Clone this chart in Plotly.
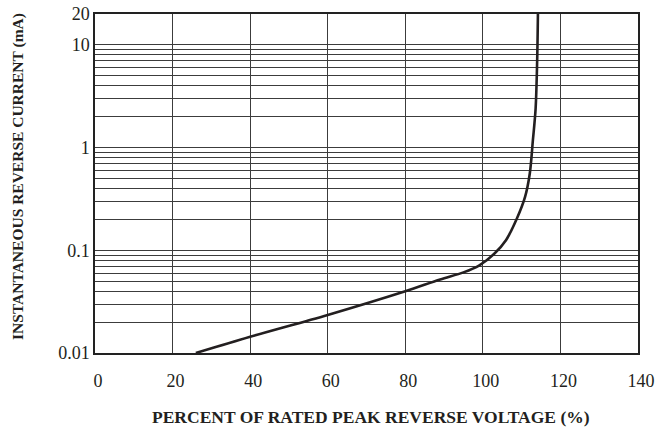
import plotly.graph_objects as go

# Curve
voltage_pct = [26, 40, 60, 80, 89, 95, 99, 103, 106, 108.8, 110.9, 112.1, 112.9, 113.6, 114.0, 114.2]
current_ma = [0.01, 0.0144, 0.0235, 0.040, 0.052, 0.061, 0.071, 0.093, 0.126, 0.205, 0.333, 0.56, 1.18, 2.4, 7.0, 20]

x_ticks = [0, 20, 40, 60, 80, 100, 120, 140]
x_ticktext = ["0", "20", "40", "60", "80", "100", "120", "140"]

y_grid = [m * d for d in (0.01, 0.1, 1) for m in range(1, 10)] + [10, 20]
y_labels = {0.01: "0.01", 0.1: "0.1", 1: "1", 10: "10", 20: "20"}
y_ticktext = [y_labels.get(round(v, 6), "") for v in y_grid]

FONT = "Liberation Serif, Times New Roman, Times, serif"
INK = "#231f20"

fig = go.Figure()
fig.add_trace(go.Scatter(
    x=voltage_pct, y=current_ma, mode="lines",
    line=dict(color=INK, width=2.6, shape="spline", smoothing=0.9),
    hoverinfo="skip", showlegend=False,
))

fig.update_layout(
    width=655, height=434,
    margin=dict(l=95, r=17, t=14, b=81),
    paper_bgcolor="white", plot_bgcolor="white",
    font=dict(family=FONT, color=INK, size=18),
    xaxis=dict(
        range=[0, 140], tickvals=x_ticks, ticktext=x_ticktext,
        showgrid=True, gridcolor="#3c3c3c", gridwidth=1.2,
        showline=True, linecolor="#222", linewidth=1.5, mirror=True,
        zeroline=False, ticks="", ticklabelstandoff=11, ticklabelshift=3,
        ticklabeloverflow="allow", automargin=False,
        tickfont=dict(family=FONT, size=18, color=INK),
    ),
    yaxis=dict(
        type="log", range=[-2, 1.30103], tickvals=y_grid, ticktext=y_ticktext,
        showgrid=True, gridcolor="#3c3c3c", gridwidth=1.2,
        showline=True, linecolor="#222", linewidth=1.5, mirror=True,
        zeroline=False, ticks="", ticklabeloverflow="allow", automargin=False,
        tickfont=dict(family=FONT, size=18, color=INK),
    ),
    annotations=[
        dict(text="<b>PERCENT OF RATED PEAK REVERSE VOLTAGE (%)</b>",
             xref="paper", yref="paper", x=0.508, y=-0.189,
             xanchor="center", yanchor="middle", showarrow=False,
             font=dict(family=FONT, size=17.5, color=INK)),
        dict(text="<b>INSTANTANEOUS REVERSE CURRENT (mA)</b>",
             xref="paper", yref="paper", x=-0.142, y=0.522, textangle=-90,
             xanchor="center", yanchor="middle", showarrow=False,
             font=dict(family=FONT, size=15.5, color=INK)),
    ],
)

# remove the browser's default 8px page margin so the figure fills the window
fig.write_html(
    "out.html",
    config={"displayModeBar": False},
    post_script="document.body.style.margin='0';document.body.style.overflow='hidden';",
)
